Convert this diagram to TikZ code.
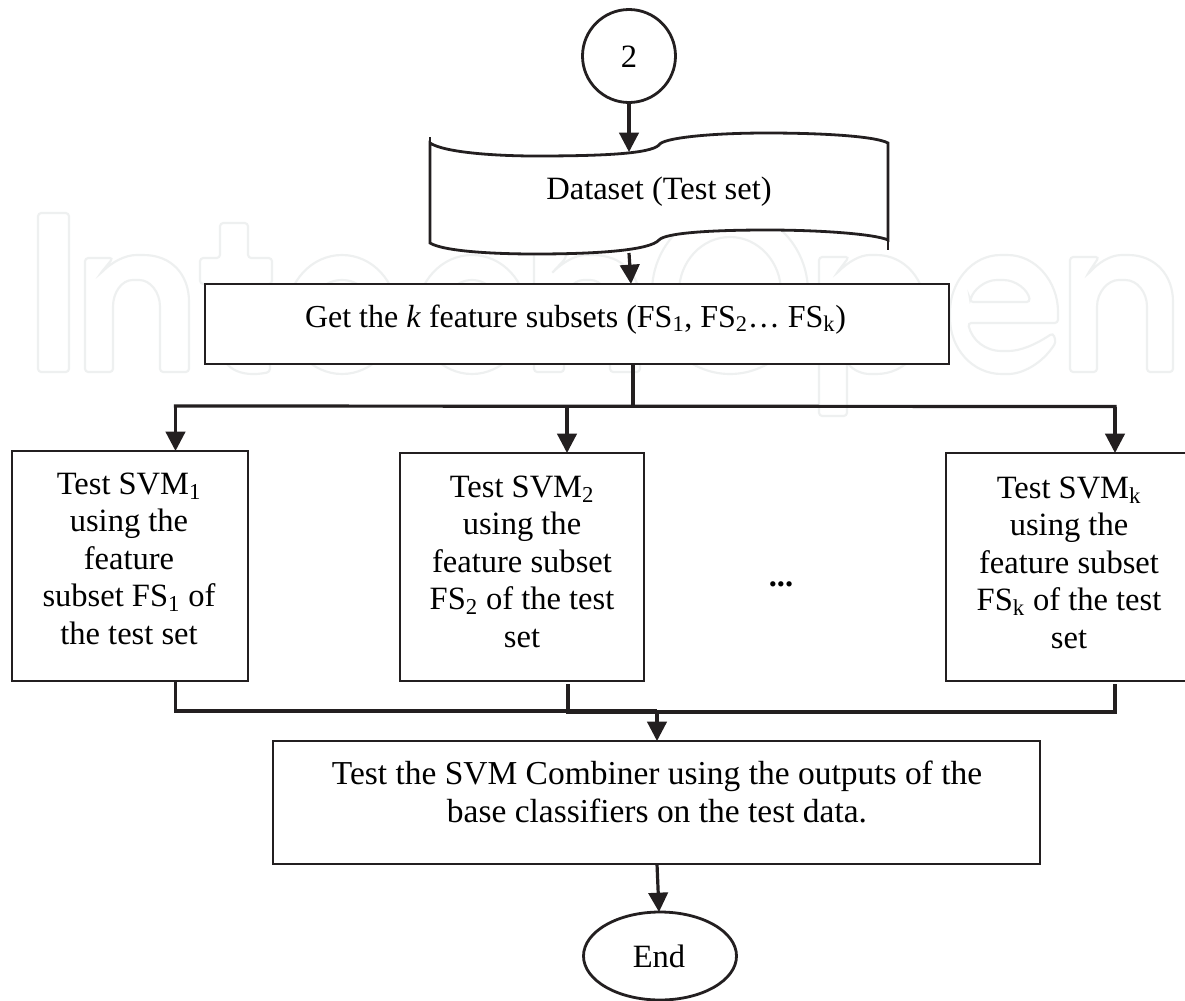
\documentclass[tikz,border=0pt]{standalone}
\usepackage{fontspec}
\setmainfont{Liberation Serif}
\usetikzlibrary{arrows.meta,shapes.geometric}
\definecolor{ink}{HTML}{231F20}
\definecolor{wm}{HTML}{EEF0F0}
\tikzset{
  sz/.style 2 args={minimum width=#1*0.75pt,minimum height=#2*0.75pt},
  boxnode/.style={draw=ink,fill=white,line width=2.1pt,inner sep=0pt,outer sep=0pt},
  txt/.style={anchor=base,align=center,inner sep=0pt,text=black,font=\fontsize{24.4}{28.1}\selectfont},
  conn/.style={draw=ink,line width=2.4pt},
  arr/.style={conn,-{Triangle[width=14.5pt,length=14.5pt,color=ink]}},
  wmark/.style={draw=wm,line width=1.6pt,rounded corners=2.5pt},
  docline/.style={draw=ink,line width=2.1pt}
}
\begin{document}
\begin{tikzpicture}[x=0.75pt,y=-0.75pt]
\useasboundingbox (0,0) rectangle (1185,1000);
\fill[white] (0,0) rectangle (1185,1000);
% faint background lettering
\draw[wmark] (38,213) rectangle (69,372);
\draw[wmark] (85,372) -- (85,258) -- (113,258) -- (100,274) .. controls (112,262) and (125,255) .. (140,255) .. controls (172,255) and (189,275) .. (189,305) -- (189,372) -- (160,372) -- (160,310) .. controls (160,292) and (150,280) .. (136,280) .. controls (122,280) and (113,292) .. (113,310) -- (113,372) -- cycle;
\draw[wmark] (220,223) -- (248,223) -- (248,258) -- (272,258) -- (272,284) -- (248,284) -- (248,335) .. controls (248,345) and (255,348) .. (270,346) -- (270,372) .. controls (240,378) and (220,368) .. (220,340) -- (220,284) -- (200,284) -- (200,258) -- (220,258) -- cycle;
\draw[wm,line width=1.6pt] (342,314.5) ellipse [x radius=55,y radius=59.5];
\draw[wm,line width=1.6pt] (342,308) ellipse [x radius=30,y radius=28];
\draw[wm,line width=1.6pt] (472,314.5) ellipse [x radius=55,y radius=59.5];
\draw[wm,line width=1.6pt] (472,314.5) ellipse [x radius=30,y radius=34.5];
\draw[wmark] (534,372) -- (534,213) -- (566,213) -- (566,258) -- (551,274) .. controls (563,262) and (576,255) .. (589,255) .. controls (623,255) and (640,275) .. (640,305) -- (640,372) -- (610,372) -- (610,310) .. controls (610,292) and (601,280) .. (587,280) .. controls (573,280) and (564,292) .. (564,310) -- (564,372) -- cycle;
\draw[wm,line width=1.6pt] (730,292) ellipse [x radius=78,y radius=82];
\draw[wm,line width=1.6pt] (730,292) ellipse [x radius=51,y radius=55];
\draw[wmark] (819,416) -- (819,257) -- (849,257) -- (836,274) .. controls (848,262) and (860,255) .. (873,255) .. controls (905,255) and (926,280) .. (926,315) .. controls (926,350) and (905,374) .. (873,374) .. controls (862,374) and (853,370) .. (847,362) -- (847,416) -- cycle;
\draw[wmark] (1058,323) -- (968,323) .. controls (972,340) and (985,351) .. (1005,351) .. controls (1020,351) and (1035,345) .. (1053,333) -- (1056,342) .. controls (1042,364) and (1022,374) .. (1005,374) .. controls (972,374) and (950,348) .. (950,315) .. controls (950,282) and (972,255) .. (1004,255) .. controls (1036,255) and (1058,282) .. (1058,315) -- cycle;
\draw[wmark] (970,302) -- (1030,302) .. controls (1028,290) and (1016,280) .. (1000,280) .. controls (985,280) and (973,290) .. (970,302) -- cycle;
\draw[wmark] (1070,372) -- (1070,257) -- (1099,257) -- (1087,275) .. controls (1098,263) and (1110,255) .. (1125,255) .. controls (1155,255) and (1173,275) .. (1173,305) -- (1173,372) -- (1147,372) -- (1147,310) .. controls (1147,292) and (1137,280) .. (1122,280) .. controls (1108,280) and (1097,292) .. (1097,310) -- (1097,372) -- cycle;
% dataset document shape
\draw[docline,fill=white] (430,143) .. controls (445,153) and (500,156) .. (535,156) .. controls (600,156) and (650,154) .. (659,145) .. controls (662,138) and (710,133) .. (767,133) .. controls (820,133) and (875,136) .. (888,143) -- (888,240) .. controls (875,234) and (820,230) .. (767,230) .. controls (710,230) and (665,233) .. (659,240) .. controls (650,250) and (600,254) .. (535,254) .. controls (500,254) and (445,252) .. (430,243) -- cycle;
\draw[docline] (430,143) -- (430,137);
\draw[docline] (888,240) -- (888,250);
% nodes
\node[boxnode,circle,minimum size=69.75pt] (start) at (629,56) {};
\node[txt] (startt) at (629,67) {2};
\node[txt] (data) at (659,199) {Dataset (Test set)};
\node[boxnode,sz={744}{80}] (get) at (577,324) {};
\node[txt,font=\fontsize{24}{28.1}\selectfont] (gett) at (575.5,327) {Get the \textit{k} feature subsets (FS\textsubscript{1}, FS\textsubscript{2}… FS\textsubscript{k})};
\node[boxnode,sz={236}{230}] (b1) at (130,566) {};
\node[txt] (b1t) at (129,644) {Test SVM\textsubscript{1}\\using the\\feature\\subset FS\textsubscript{1} of\\the test set};
\node[boxnode,sz={244}{228}] (b2) at (522,567) {};
\node[txt] (b2t) at (522,647) {Test SVM\textsubscript{2}\\using the\\feature subset\\FS\textsubscript{2} of the test\\set};
\node[boxnode,sz={243}{228}] (bk) at (1067.5,567) {};
\node[txt] (bkt) at (1069,648) {Test SVM\textsubscript{k}\\using the\\feature subset\\FS\textsubscript{k} of the test\\set};
\node[txt] (dots) at (781,586) {\textbf{...}};
\node[boxnode,sz={767}{123}] (comb) at (656.5,802.5) {};
\node[txt,font=\fontsize{25.1}{27.8}\selectfont] (combt) at (657,822) {Test the SVM Combiner using the outputs of the\\base classifiers on the test data.};
\node[boxnode,ellipse,sz={153}{88}] (end) at (660,956) {};
\node[txt] (endt) at (659,967) {End};
% junction points
\coordinate (doctop) at (629,152);
\coordinate (docbot) at (629,253);
\coordinate (gettop) at (631,284);
\coordinate (split) at (633,406);
\coordinate (a1) at (175.5,406);
\coordinate (a2) at (567,406);
\coordinate (ak) at (1115,406.5);
\coordinate (s1) at (175.5,681);
\coordinate (s2) at (568,684);
\coordinate (sk) at (1115,684);
\coordinate (h1) at (175.5,711);
\coordinate (h2) at (568,712);
\coordinate (hk) at (1115,712);
\coordinate (merge) at (657,711);
\coordinate (merge2) at (657,712);
\coordinate (combtop) at (657,741);
\coordinate (combbot) at (657,864);
\coordinate (endtop) at (659,912);
% connectors
\draw[arr] (start.south) -- (doctop);
\draw[arr] (docbot) -- (gettop);
\draw[conn] (split |- get.south) -- (split);
\draw[conn,line cap=rect] (a1) -- (ak);
\draw[arr] (a1) -- (a1 |- b1.north);
\draw[arr] (a2) -- (a2 |- b2.north);
\draw[arr] (ak) -- (ak |- bk.north);
\draw[conn,line join=miter] (s1) -- (h1) -- (merge);
\draw[conn,line join=miter] (s2) -- (h2) -- (hk) -- (sk);
\draw[conn] (merge2) -- (merge);
\draw[arr] (merge) -- (combtop);
\draw[arr] (combbot) -- (endtop);
\end{tikzpicture}
\end{document}
